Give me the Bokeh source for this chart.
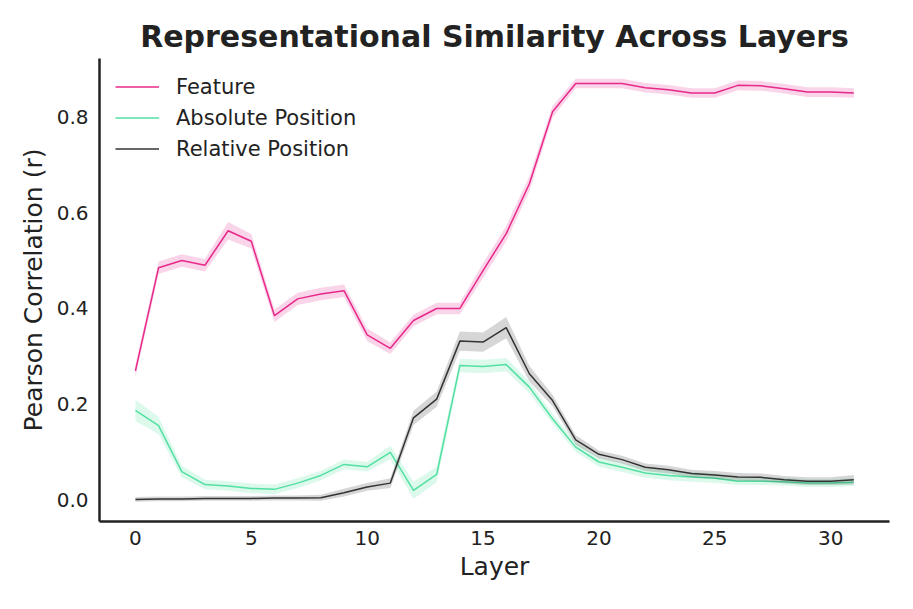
from bokeh.plotting import figure
from bokeh.models import FixedTicker, PrintfTickFormatter, Range1d, Legend, LegendItem
from bokeh.embed import file_html
from bokeh.resources import INLINE

layers = list(range(32))

feature = [0.27, 0.485, 0.50, 0.49, 0.562, 0.54, 0.385, 0.42, 0.43, 0.437,
           0.345, 0.317, 0.375, 0.40, 0.40, 0.479, 0.556, 0.66, 0.81, 0.869,
           0.869, 0.869, 0.86, 0.856, 0.849, 0.849, 0.865, 0.864, 0.858, 0.851,
           0.851, 0.849]
feature_err = [0.013, 0.013, 0.013, 0.013, 0.018, 0.015, 0.013, 0.013, 0.013, 0.013,
               0.013, 0.012, 0.012, 0.012, 0.012, 0.015, 0.016, 0.015, 0.012, 0.01,
               0.01, 0.01, 0.01, 0.01, 0.01, 0.01, 0.01, 0.01, 0.01, 0.01,
               0.01, 0.01]

absolute = [0.1875, 0.156, 0.06, 0.033, 0.03, 0.025, 0.023, 0.036, 0.052, 0.075,
            0.07, 0.10, 0.021, 0.054, 0.281, 0.279, 0.283, 0.236, 0.17, 0.111,
            0.08, 0.069, 0.057, 0.052, 0.049, 0.046, 0.040, 0.040, 0.039, 0.036,
            0.036, 0.038]
absolute_err = [0.022, 0.018, 0.012, 0.01, 0.01, 0.01, 0.01, 0.01, 0.01, 0.01,
                0.01, 0.014, 0.018, 0.016, 0.014, 0.014, 0.014, 0.012, 0.01, 0.01,
                0.01, 0.01, 0.01, 0.01, 0.01, 0.01, 0.008, 0.008, 0.008, 0.008,
                0.008, 0.008]

relative = [0.002, 0.003, 0.003, 0.004, 0.004, 0.004, 0.005, 0.005, 0.0055, 0.016,
            0.028, 0.036, 0.172, 0.211, 0.332, 0.33, 0.36, 0.264, 0.208, 0.126,
            0.096, 0.085, 0.069, 0.064, 0.056, 0.053, 0.049, 0.048, 0.043, 0.040,
            0.040, 0.043]
relative_err = [0.005, 0.005, 0.005, 0.005, 0.005, 0.005, 0.005, 0.005, 0.006, 0.008,
                0.008, 0.01, 0.015, 0.016, 0.02, 0.02, 0.022, 0.016, 0.012, 0.01,
                0.008, 0.008, 0.008, 0.008, 0.008, 0.008, 0.008, 0.008, 0.008, 0.008,
                0.008, 0.01]

series = [
    ("Feature", feature, feature_err, "#e7298a"),
    ("Absolute Position", absolute, absolute_err, "#52e0a2"),
    ("Relative Position", relative, relative_err, "#333333"),
]

x_ticks = [0, 5, 10, 15, 20, 25, 30]
y_ticks = [0.0, 0.2, 0.4, 0.6, 0.8]

FONT = "DejaVu Sans"
TXT = "#222222"

p = figure(width=905, height=600, output_backend="svg", toolbar_location=None,
           x_range=Range1d(-1.55, 32.54), y_range=Range1d(-0.044, 0.921),
           min_border_left=99, min_border_right=16, min_border_top=58,
           min_border_bottom=79)

p.title.text = "Representational Similarity Across Layers"
p.title.align = "center"
p.title.text_font = FONT
p.title.text_font_size = "30px"
p.title.text_font_style = "bold"
p.title.text_color = TXT
p.title.standoff = 9

items = []
for name, vals, err, col in series:
    lo = [v - e for v, e in zip(vals, err)]
    hi = [v + e for v, e in zip(vals, err)]
    p.varea(x=layers, y1=lo, y2=hi, fill_color=col, fill_alpha=0.2)
    r = p.line(layers, vals, line_color=col, line_width=1.5)
    items.append(LegendItem(label=name, renderers=[r]))

legend = Legend(items=items, location="top_left")
legend.border_line_color = None
legend.background_fill_alpha = 0
legend.label_text_font = FONT
legend.label_text_font_size = "21px"
legend.label_text_color = TXT
legend.glyph_width = 44
legend.glyph_height = 25
legend.label_height = 25
legend.label_standoff = 17
legend.spacing = 6
legend.margin = 16
legend.padding = 1
p.add_layout(legend)

p.grid.grid_line_color = None
p.outline_line_color = None

for ax in (p.xaxis[0], p.yaxis[0]):
    ax.axis_line_color = TXT
    ax.axis_line_width = 2.5
    ax.major_tick_line_color = None
    ax.minor_tick_line_color = None
    ax.major_label_text_font = FONT
    ax.major_label_text_font_size = "20px"
    ax.major_label_text_color = TXT
    ax.axis_label_text_font = FONT
    ax.axis_label_text_font_size = "25px"
    ax.axis_label_text_font_style = "normal"
    ax.axis_label_text_color = TXT

p.xaxis.ticker = FixedTicker(ticks=x_ticks)
p.yaxis.ticker = FixedTicker(ticks=y_ticks)
p.yaxis.formatter = PrintfTickFormatter(format="%.1f")
p.xaxis.axis_label = "Layer"
p.yaxis.axis_label = "Pearson Correlation (r)"
p.xaxis.major_label_standoff = 3
p.yaxis.major_label_standoff = 5
p.xaxis.axis_label_standoff = 4
p.yaxis.axis_label_standoff = 6

open("out.html", "w").write(file_html(p, INLINE))
